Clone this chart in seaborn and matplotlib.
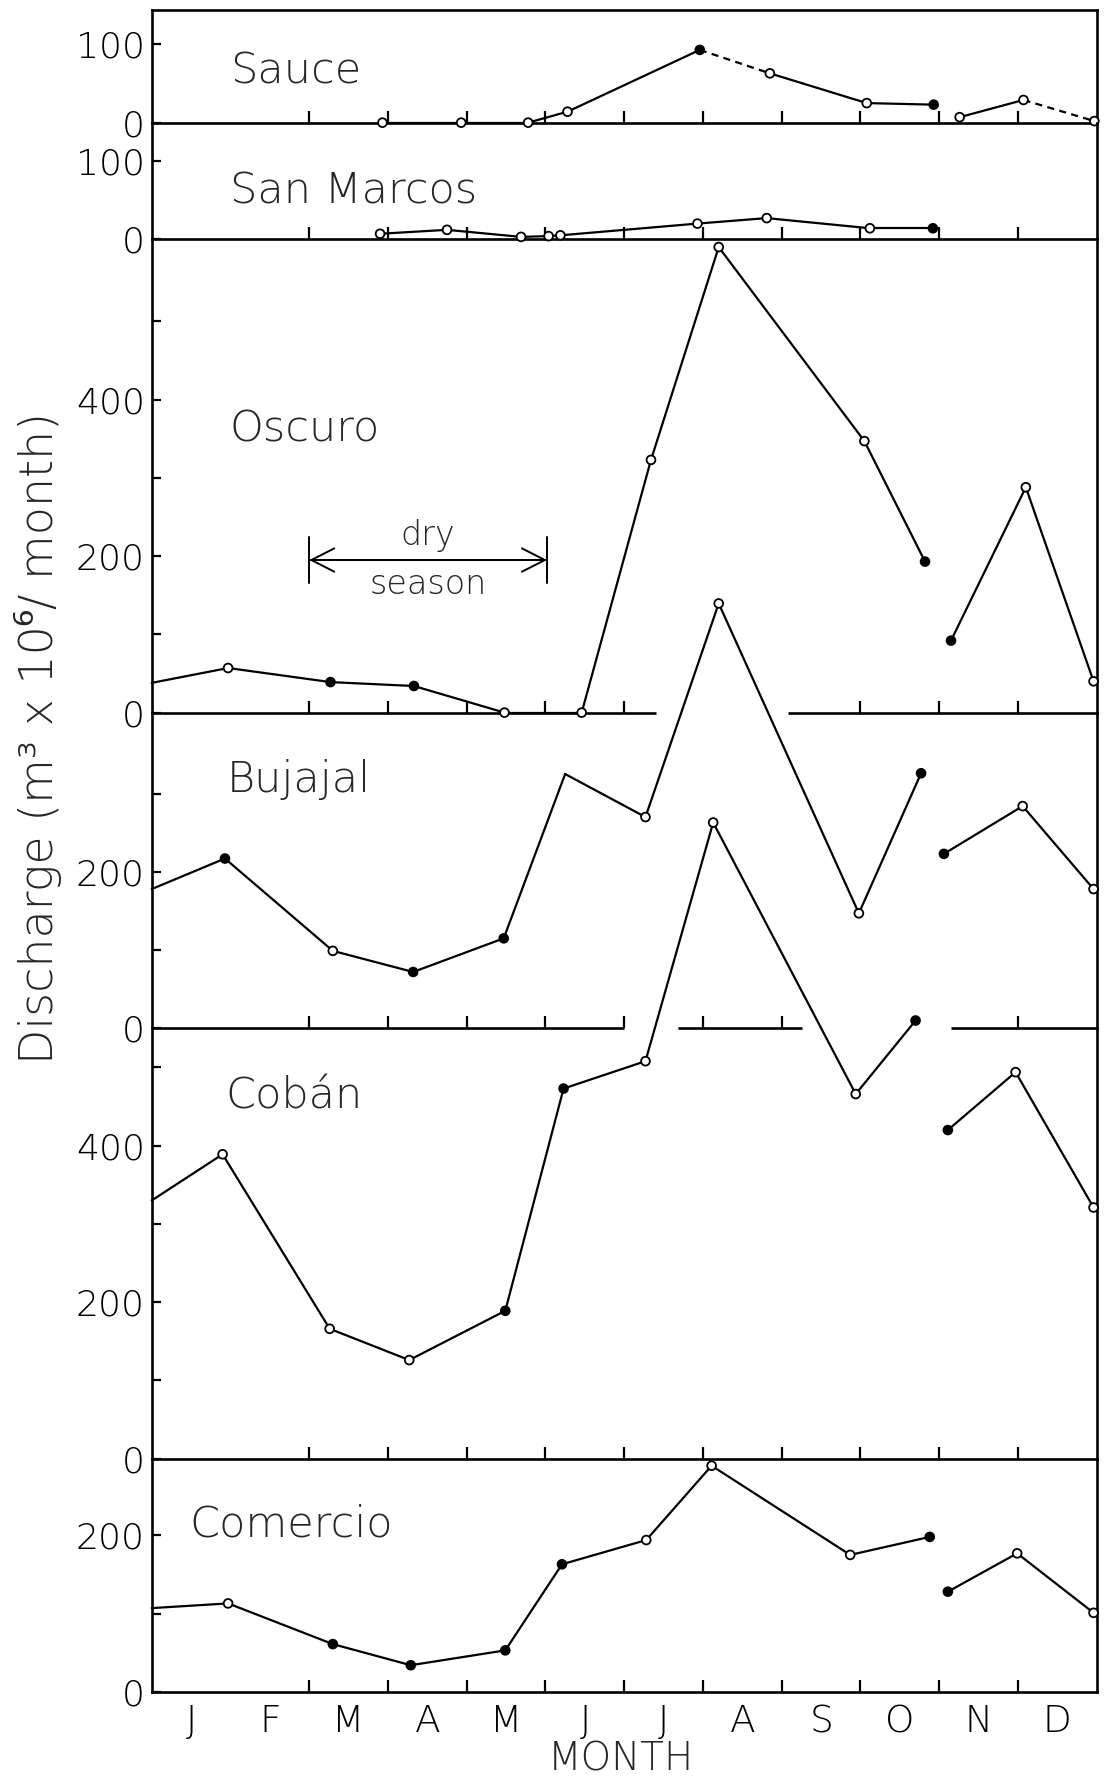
import matplotlib
matplotlib.use("Agg")
import matplotlib.pyplot as plt
import pandas as pd
import seaborn as sns

sns.set_theme(style="white")
plt.rcParams["font.family"] = ["DejaVu Sans", "Noto Sans"]
plt.rcParams["font.weight"] = "light"
plt.rcParams["axes.edgecolor"] = "black"

# Time axis: months elapsed since 1 January (0 = Jan 1, 12 = Dec 31)
month_letters = ["J", "F", "M", "A", "M", "J", "J", "A", "S", "O", "N", "D"]

# Monthly discharge, 10^6 m^3 per month.
# link: style of the segment joining point i to i+1 (None = no record)
# mark: "o" open circle, "f" solid dot, "" no symbol
sauce_t = [2.93, 3.93, 4.78, 5.28, 6.96, 7.85, 9.08, 9.93, 10.26, 11.07, 11.97]
sauce_q = [0, 0, 0, 14, 93, 63, 25, 23, 7, 29, 2]
sauce_link = ["-", "-", "-", "-", "--", "-", "-", None, "-", "--"]
sauce_mark = ["o", "o", "o", "o", "f", "o", "o", "f", "o", "o", "o"]

sanmarcos_t = [2.9, 3.75, 4.69, 5.04, 5.19, 6.93, 7.81, 9.12, 9.92]
sanmarcos_q = [7, 12, 3, 4, 5, 20, 27, 14, 14]
sanmarcos_link = ["-"] * 8
sanmarcos_mark = ["o", "o", "o", "o", "o", "o", "o", "o", "f"]

oscuro_t = [0, 0.97, 2.27, 3.33, 4.48, 5.46, 6.34, 7.2, 9.05, 9.82, 10.15, 11.1, 11.96]
oscuro_q = [38, 57, 39, 34, 0, 0, 323, 595, 347, 193, 92, 288, 40]
oscuro_link = ["-"] * 9 + [None] + ["-"] * 2
oscuro_mark = ["", "o", "f", "f", "o", "o", "o", "o", "o", "f", "f", "o", "o"]

bujajal_t = [0, 0.93, 2.30, 3.32, 4.47, 5.25, 6.27, 7.2, 8.98, 9.77, 10.06, 11.06, 11.96]
bujajal_q = [178, 217, 99, 72, 115, 325, 270, 543, 147, 326, 223, 284, 178]
bujajal_link = ["-"] * 9 + [None] + ["-"] * 2
bujajal_mark = ["", "f", "o", "f", "f", "", "o", "o", "o", "f", "f", "o", "o"]

coban_t = [0, 0.9, 2.26, 3.27, 4.49, 5.23, 6.27, 7.13, 8.94, 9.70, 10.11, 10.97, 11.96]
coban_q = [330, 389, 166, 126, 189, 473, 508, 813, 466, 560, 420, 494, 321]
coban_link = ["-"] * 9 + [None] + ["-"] * 2
coban_mark = ["", "o", "o", "o", "f", "f", "o", "o", "o", "f", "f", "o", "o"]

comercio_t = [0, 0.97, 2.30, 3.29, 4.49, 5.21, 6.28, 7.11, 8.87, 9.88, 10.11, 10.99, 11.96]
comercio_q = [107, 113, 61, 34, 53, 163, 194, 289, 175, 198, 128, 177, 101]
comercio_link = ["-"] * 9 + [None] + ["-"] * 2
comercio_mark = ["", "o", "f", "f", "f", "f", "o", "o", "o", "f", "f", "o", "o"]

dry_season = (2.0, 5.02)

# panel layout: name, series, y-limit top, labelled ticks, minor ticks,
# label anchor (t, q), x ticks along the zero line, zero-line pieces
panels = [
    dict(name="Sauce", t=sauce_t, q=sauce_q, link=sauce_link, mark=sauce_mark,
         top=144, major=[0, 100], minor=[], lab=(0.99, 50),
         xt=list(range(2, 12)), zero=None),
    dict(name="San Marcos", t=sanmarcos_t, q=sanmarcos_q, link=sanmarcos_link,
         mark=sanmarcos_mark, top=149, major=[0, 100], minor=[], lab=(0.99, 46),
         xt=list(range(2, 12)), zero=None),
    dict(name="Oscuro", t=oscuro_t, q=oscuro_q, link=oscuro_link, mark=oscuro_mark,
         top=605, major=[0, 200, 400], minor=[100, 300, 500], lab=(0.99, 347),
         xt=[2, 3, 4, 5, 6, 9, 10, 11], zero=[(0, 6.41), (8.08, 12)]),
    dict(name="Bujajal", t=bujajal_t, q=bujajal_q, link=bujajal_link,
         mark=bujajal_mark, top=403.5, major=[0, 200], minor=[100, 300],
         lab=(0.95, 302), xt=[2, 3, 4, 5, 6, 7, 8, 11],
         zero=[(0, 6.0), (6.68, 8.26), (10.15, 12)]),
    dict(name="Cobán", t=coban_t, q=coban_q, link=coban_link, mark=coban_mark,
         top=550, major=[0, 200, 400], minor=[100, 300, 500], lab=(0.94, 448),
         xt=list(range(2, 12)), zero=None),
    dict(name="Comercio", t=comercio_t, q=comercio_q, link=comercio_link,
         mark=comercio_mark, top=298, major=[0, 200], minor=[100],
         lab=(0.48, 198), xt=list(range(2, 12)), zero=None),
]


def segment_table(t, q, link):
    rows = []
    for i, style in enumerate(link):
        if style is None:
            continue
        rows.append(dict(t=t[i], q=q[i], piece=i, link=style))
        rows.append(dict(t=t[i + 1], q=q[i + 1], piece=i, link=style))
    return pd.DataFrame(rows)


fig = plt.figure(figsize=(11.09, 17.82), dpi=100)
gs = fig.add_gridspec(len(panels), 1, height_ratios=[p["top"] for p in panels],
                      hspace=0, left=0.1368, right=0.9889, top=0.9944, bottom=0.0506)

LW = 1.6
SPINE = 1.9
axes = []
for k, p in enumerate(panels):
    ax = fig.add_subplot(gs[k])
    axes.append(ax)
    ax.set_facecolor("none")
    ax.set_xlim(0, 12)
    ax.set_ylim(0, p["top"])

    seg = segment_table(p["t"], p["q"], p["link"])
    sns.lineplot(data=seg, x="t", y="q", units="piece", estimator=None,
                 style="link", dashes={"-": "", "--": (3.2, 2.4)},
                 color="black", linewidth=LW, legend=False, sort=False,
                 ax=ax, clip_on=False, zorder=4)

    pts = pd.DataFrame(dict(t=p["t"], q=p["q"], mark=p["mark"]))
    pts = pts[pts["mark"] != ""]
    sns.scatterplot(data=pts, x="t", y="q", hue="mark",
                    palette={"o": "white", "f": "black"}, edgecolor="black",
                    linewidth=1.3, s=40, legend=False, ax=ax, clip_on=False,
                    zorder=6)

    ax.text(p["lab"][0], p["lab"][1], p["name"], fontsize=31,
            fontweight="light", ha="left", va="baseline")

    for side in ["left", "right", "bottom", "top"]:
        ax.spines[side].set_linewidth(SPINE)
        ax.spines[side].set_color("black")
    ax.spines["top"].set_visible(k == 0)
    if p["zero"] is not None:
        ax.spines["bottom"].set_visible(False)
        for a, b in p["zero"]:
            ax.hlines(0, a, b, color="black", linewidth=SPINE, clip_on=False,
                      zorder=3)

    ax.set_yticks(p["major"])
    ax.set_yticklabels([str(v) for v in p["major"]])
    ax.set_yticks(p["minor"], minor=True)
    ax.tick_params(axis="y", which="both", direction="in", length=6.5,
                   width=1.6, left=True, right=False, labelsize=26, pad=5,
                   colors="black")

    ax.set_xticks(p["xt"])
    ax.set_xticklabels([])
    ax.tick_params(axis="x", which="major", direction="in", length=9,
                   width=1.6, bottom=True, top=False, colors="black")
    ax.set_xlabel("")
    ax.set_ylabel("")

# month names centred in each month along the bottom panel
bottom_ax = axes[-1]
bottom_ax.set_xticks([m + 0.5 for m in range(12)], minor=True)
bottom_ax.set_xticklabels(month_letters, minor=True)
bottom_ax.tick_params(axis="x", which="minor", length=0, labelsize=27, pad=9,
                      colors="black")

# dry-season marker on the Oscuro panel
osc = axes[2]
osc.annotate("", xy=(dry_season[0], 195), xytext=(dry_season[1], 195),
             arrowprops=dict(arrowstyle="<->,head_length=0.55,head_width=0.28",
                             lw=1.4, color="black", shrinkA=0, shrinkB=0,
                             mutation_scale=30))
osc.annotate("", xy=(dry_season[0], 195), xytext=(dry_season[1], 195),
             arrowprops=dict(arrowstyle="|-|,widthA=0.55,widthB=0.55",
                             lw=1.4, color="black", shrinkA=0, shrinkB=0,
                             mutation_scale=30))
mid = (dry_season[0] + dry_season[1]) / 2
osc.text(mid, 214, "dry", fontsize=24, ha="center", va="baseline")
osc.text(mid, 152, "season", fontsize=24, ha="center", va="baseline")

fig.text(0.034, 0.586, "Discharge (m³ x 10⁶/ month)", rotation=90,
         fontsize=33, ha="center", va="center",
         family=["DejaVu Sans", "Noto Sans"])
fig.text(0.5598, 0.0067, "MONTH", fontsize=28, ha="center", va="baseline")

fig.savefig("out.png", dpi=100)
